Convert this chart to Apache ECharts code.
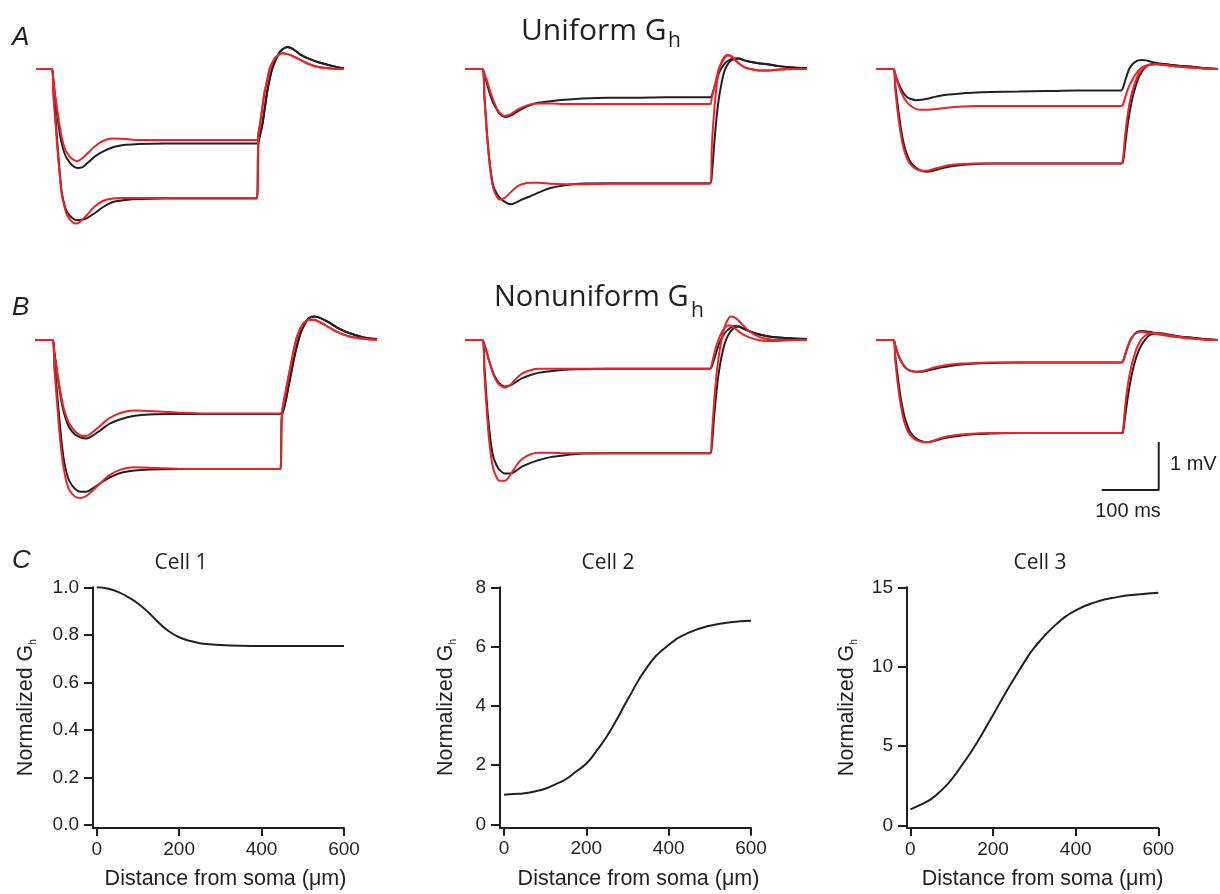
<!DOCTYPE html>
<html>
<head>
<meta charset="utf-8">
<script src="https://cdn.jsdelivr.net/npm/echarts@6/dist/echarts.min.js"></script>
<style>
  html, body { margin: 0; padding: 0; background: #fff; }
  #chart { width: 1220px; height: 894px; }
</style>
</head>
<body>
<div id="chart"></div>
<script>
// time base of the voltage traces (ms); step runs 30 -> 430 ms
const TIME = [0, 30, 34, 38, 42, 46, 50, 55, 60, 70, 80, 90, 100, 115, 130, 150, 175, 200, 250, 300,
  350, 400, 430, 433, 437, 441, 445, 450, 455, 460, 466, 473, 480, 490, 500, 515, 530, 550, 575, 600];

// A: uniform Gh, recorded (black) and model (red), mV from baseline
const a1BlackSmall = [0, 0, -0.25, -0.65, -1.0, -1.32, -1.55, -1.74, -1.86, -2.0, -2.06, -2.05, -1.96, -1.82, -1.72, -1.63, -1.58, -1.56, -1.55, -1.55, -1.55, -1.55, -1.55, -1.5, -1.35, -1.15, -0.87, -0.5, -0.22, 0.0, 0.17, 0.32, 0.41, 0.46, 0.42, 0.3, 0.22, 0.14, 0.07, 0.01];
const a1BlackLarge = [0, 0, -0.45, -1.0, -1.6, -2.12, -2.55, -2.82, -2.97, -3.1, -3.15, -3.14, -3.1, -3.0, -2.88, -2.77, -2.73, -2.71, -2.7, -2.7, -2.7, -2.7, -2.7, -1.6, -1.35, -1.15, -0.87, -0.5, -0.22, 0.0, 0.17, 0.32, 0.41, 0.46, 0.42, 0.3, 0.22, 0.14, 0.07, 0.01];
const a1RedSmall = [0, 0, -0.3, -0.6, -0.9, -1.18, -1.42, -1.62, -1.74, -1.87, -1.92, -1.86, -1.76, -1.61, -1.5, -1.45, -1.46, -1.48, -1.48, -1.48, -1.48, -1.48, -1.48, -1.35, -1.1, -0.8, -0.5, -0.25, 0.0, 0.12, 0.23, 0.3, 0.33, 0.31, 0.27, 0.19, 0.11, 0.04, 0.01, 0];
const a1RedLarge = [0, 0, -0.6, -1.15, -1.7, -2.2, -2.6, -2.85, -3.03, -3.18, -3.22, -3.14, -3.03, -2.86, -2.75, -2.7, -2.69, -2.69, -2.69, -2.69, -2.69, -2.69, -2.69, -1.4, -1.1, -0.8, -0.5, -0.25, 0.0, 0.12, 0.23, 0.3, 0.33, 0.31, 0.27, 0.19, 0.11, 0.04, 0.01, 0];

const a2BlackSmall = [0, 0, -0.12, -0.28, -0.45, -0.6, -0.72, -0.83, -0.92, -1.0, -0.97, -0.9, -0.83, -0.75, -0.7, -0.67, -0.64, -0.62, -0.6, -0.6, -0.59, -0.59, -0.59, -0.55, -0.4, -0.25, -0.1, 0.02, 0.1, 0.16, 0.2, 0.22, 0.22, 0.18, 0.15, 0.12, 0.1, 0.06, 0.03, 0.02];
const a2BlackLarge = [0, 0, -0.55, -1.25, -1.8, -2.2, -2.45, -2.58, -2.67, -2.77, -2.82, -2.78, -2.72, -2.65, -2.57, -2.48, -2.42, -2.39, -2.38, -2.38, -2.38, -2.38, -2.38, -2.2, -1.6, -1.05, -0.65, -0.3, -0.05, 0.08, 0.17, 0.21, 0.22, 0.18, 0.15, 0.12, 0.1, 0.06, 0.03, 0.02];
const a2RedSmall = [0, 0, -0.1, -0.22, -0.38, -0.53, -0.66, -0.8, -0.9, -0.98, -0.94, -0.86, -0.8, -0.74, -0.72, -0.72, -0.73, -0.73, -0.73, -0.73, -0.73, -0.73, -0.73, -0.6, -0.4, -0.2, 0.0, 0.12, 0.22, 0.28, 0.28, 0.2, 0.12, 0.04, 0.0, -0.03, -0.03, -0.01, 0, 0];
const a2RedLarge = [0, 0, -0.6, -1.3, -1.85, -2.26, -2.5, -2.64, -2.72, -2.68, -2.57, -2.46, -2.4, -2.37, -2.37, -2.39, -2.4, -2.4, -2.39, -2.39, -2.39, -2.39, -2.39, -1.6, -0.9, -0.4, -0.05, 0.15, 0.25, 0.29, 0.27, 0.2, 0.12, 0.04, 0.0, -0.03, -0.03, -0.01, 0, 0];

const a3BlackSmall = [0, 0, -0.12, -0.26, -0.37, -0.46, -0.53, -0.59, -0.62, -0.65, -0.64, -0.62, -0.59, -0.55, -0.53, -0.51, -0.49, -0.48, -0.47, -0.46, -0.45, -0.45, -0.45, -0.4, -0.25, -0.1, 0.02, 0.1, 0.15, 0.18, 0.19, 0.18, 0.16, 0.13, 0.11, 0.09, 0.07, 0.05, 0.02, 0];
const a3BlackLarge = [0, 0, -0.35, -0.75, -1.1, -1.4, -1.62, -1.8, -1.93, -2.06, -2.12, -2.14, -2.12, -2.07, -2.03, -2.0, -1.98, -1.97, -1.97, -1.97, -1.97, -1.97, -1.97, -1.95, -1.6, -1.2, -0.9, -0.6, -0.38, -0.2, -0.06, 0.04, 0.09, 0.11, 0.11, 0.09, 0.07, 0.05, 0.02, 0];
const a3RedSmall = [0, 0, -0.13, -0.28, -0.42, -0.53, -0.62, -0.7, -0.76, -0.83, -0.85, -0.85, -0.84, -0.82, -0.8, -0.78, -0.77, -0.77, -0.77, -0.77, -0.77, -0.77, -0.77, -0.75, -0.6, -0.45, -0.33, -0.22, -0.12, -0.04, 0.03, 0.07, 0.09, 0.1, 0.09, 0.07, 0.05, 0.03, 0.01, 0];
const a3RedLarge = [0, 0, -0.45, -0.9, -1.25, -1.52, -1.72, -1.88, -1.98, -2.08, -2.12, -2.12, -2.09, -2.04, -2.0, -1.98, -1.97, -1.97, -1.97, -1.97, -1.97, -1.97, -1.97, -1.9, -1.4, -1.0, -0.7, -0.45, -0.27, -0.12, -0.02, 0.05, 0.09, 0.1, 0.09, 0.07, 0.05, 0.03, 0.01, 0];

// B: nonuniform Gh
const b1BlackSmall = [0, 0, -0.25, -0.6, -0.95, -1.25, -1.48, -1.68, -1.82, -1.97, -2.03, -2.05, -2.0, -1.88, -1.75, -1.65, -1.58, -1.55, -1.54, -1.54, -1.54, -1.54, -1.54, -1.52, -1.4, -1.2, -0.95, -0.65, -0.35, -0.1, 0.15, 0.33, 0.45, 0.49, 0.46, 0.37, 0.26, 0.15, 0.06, 0.02];
const b1BlackLarge = [0, 0, -0.45, -1.0, -1.55, -2.05, -2.45, -2.75, -2.93, -3.1, -3.16, -3.16, -3.1, -2.98, -2.87, -2.77, -2.72, -2.7, -2.69, -2.69, -2.69, -2.69, -2.69, -1.6, -1.42, -1.2, -0.95, -0.65, -0.35, -0.1, 0.15, 0.33, 0.45, 0.49, 0.46, 0.37, 0.26, 0.15, 0.06, 0.02];
const b1RedSmall = [0, 0, -0.3, -0.6, -0.9, -1.17, -1.4, -1.6, -1.74, -1.9, -1.99, -2.0, -1.93, -1.78, -1.63, -1.52, -1.47, -1.48, -1.51, -1.53, -1.53, -1.53, -1.53, -1.5, -1.25, -1.0, -0.75, -0.45, -0.15, 0.08, 0.25, 0.37, 0.42, 0.42, 0.37, 0.27, 0.17, 0.08, 0.03, 0];
const b1RedLarge = [0, 0, -0.6, -1.2, -1.8, -2.3, -2.65, -2.95, -3.12, -3.26, -3.29, -3.25, -3.15, -2.98, -2.82, -2.7, -2.65, -2.66, -2.68, -2.69, -2.69, -2.69, -2.69, -1.55, -1.25, -1.0, -0.75, -0.45, -0.15, 0.08, 0.25, 0.37, 0.42, 0.42, 0.37, 0.27, 0.17, 0.08, 0.03, 0];

const b2BlackSmall = [0, 0, -0.1, -0.25, -0.42, -0.57, -0.7, -0.82, -0.9, -0.97, -0.94, -0.87, -0.8, -0.73, -0.68, -0.65, -0.62, -0.61, -0.6, -0.6, -0.6, -0.6, -0.6, -0.55, -0.4, -0.25, -0.1, 0.03, 0.13, 0.2, 0.26, 0.29, 0.28, 0.23, 0.18, 0.12, 0.08, 0.05, 0.03, 0.02];
const b2BlackLarge = [0, 0, -0.55, -1.25, -1.8, -2.2, -2.45, -2.6, -2.7, -2.78, -2.78, -2.72, -2.64, -2.56, -2.5, -2.44, -2.4, -2.37, -2.36, -2.36, -2.36, -2.36, -2.36, -2.2, -1.6, -1.1, -0.7, -0.35, -0.1, 0.06, 0.18, 0.26, 0.28, 0.23, 0.18, 0.12, 0.08, 0.05, 0.03, 0.02];
const b2RedSmall = [0, 0, -0.1, -0.25, -0.42, -0.58, -0.72, -0.85, -0.93, -0.99, -0.93, -0.8, -0.7, -0.63, -0.6, -0.6, -0.6, -0.6, -0.6, -0.6, -0.6, -0.6, -0.6, -0.5, -0.3, -0.12, 0.02, 0.15, 0.24, 0.3, 0.3, 0.25, 0.18, 0.1, 0.05, 0.0, -0.02, -0.02, 0, 0];
const b2RedLarge = [0, 0, -0.7, -1.45, -2.05, -2.45, -2.7, -2.85, -2.93, -2.93, -2.8, -2.62, -2.48, -2.38, -2.35, -2.35, -2.36, -2.36, -2.36, -2.36, -2.36, -2.36, -2.36, -2.0, -1.3, -0.75, -0.35, 0.0, 0.25, 0.4, 0.49, 0.47, 0.4, 0.28, 0.17, 0.07, 0.02, 0.0, 0, 0];

const b3BlackSmall = [0, 0, -0.12, -0.27, -0.39, -0.48, -0.55, -0.61, -0.64, -0.66, -0.66, -0.64, -0.61, -0.57, -0.54, -0.51, -0.49, -0.48, -0.47, -0.47, -0.47, -0.47, -0.47, -0.45, -0.32, -0.17, -0.04, 0.07, 0.14, 0.18, 0.19, 0.18, 0.17, 0.14, 0.12, 0.1, 0.07, 0.05, 0.02, 0];
const b3BlackLarge = [0, 0, -0.35, -0.75, -1.1, -1.38, -1.6, -1.78, -1.92, -2.05, -2.11, -2.13, -2.11, -2.06, -2.02, -1.99, -1.96, -1.95, -1.94, -1.94, -1.94, -1.94, -1.94, -1.93, -1.6, -1.25, -0.95, -0.65, -0.42, -0.25, -0.1, 0.02, 0.1, 0.14, 0.14, 0.11, 0.08, 0.05, 0.02, 0];
const b3RedSmall = [0, 0, -0.13, -0.28, -0.4, -0.49, -0.56, -0.61, -0.64, -0.66, -0.65, -0.62, -0.58, -0.54, -0.51, -0.49, -0.48, -0.47, -0.47, -0.47, -0.47, -0.47, -0.47, -0.45, -0.3, -0.15, -0.03, 0.07, 0.13, 0.16, 0.17, 0.16, 0.15, 0.13, 0.11, 0.08, 0.06, 0.03, 0.01, 0];
const b3RedLarge = [0, 0, -0.45, -0.9, -1.25, -1.52, -1.72, -1.88, -1.98, -2.08, -2.12, -2.13, -2.1, -2.04, -2.0, -1.97, -1.95, -1.94, -1.94, -1.94, -1.94, -1.94, -1.94, -1.9, -1.4, -1.0, -0.72, -0.45, -0.25, -0.1, 0.02, 0.1, 0.14, 0.15, 0.13, 0.1, 0.07, 0.04, 0.01, 0];

// scale bar: 100 ms by 1 mV
const scaleBarT = [396, 496, 496];
const scaleBarV = [-3.125, -3.125, -2.125];

// C: normalized Gh vs distance from soma (um)
const DIST = [0, 25, 50, 75, 100, 125, 150, 175, 200, 225, 250, 275, 300, 350, 400, 450, 500, 550, 600];
const cell1Gh = [1.0, 0.995, 0.982, 0.96, 0.932, 0.895, 0.852, 0.815, 0.79, 0.775, 0.765, 0.76, 0.757, 0.754, 0.753, 0.753, 0.753, 0.753, 0.753];
const cell2Gh = [1.0, 1.02, 1.05, 1.11, 1.2, 1.35, 1.52, 1.78, 2.05, 2.48, 2.97, 3.56, 4.2, 5.35, 6.05, 6.48, 6.7, 6.82, 6.87];
const cell3Gh = [1.0, 1.3, 1.65, 2.2, 2.9, 3.8, 4.75, 5.82, 6.95, 8.1, 9.2, 10.25, 11.2, 12.6, 13.55, 14.08, 14.38, 14.55, 14.66];
const distTicks = [0, 200, 400, 600];
const cell1Ticks = [0, 0.2, 0.4, 0.6, 0.8, 1.0];
const cell2Ticks = [0, 2, 4, 6, 8];
const cell3Ticks = [0, 5, 10, 15];

const INK = '#231f20';
const RED = '#e8232a';
const HELV = 'Liberation Sans';
const MYRIAD = 'Open Sans';

const chart = echarts.init(document.getElementById('chart'));

const zip = (xs, ys) => xs.map((x, i) => [x, ys[i]]);

const tracePanels = [
  { left: 36, width: 308, top: 30.6, traces: [a1BlackSmall, a1BlackLarge, a1RedSmall, a1RedLarge] },
  { left: 465, width: 342, top: 30.6, traces: [a2BlackSmall, a2BlackLarge, a2RedSmall, a2RedLarge] },
  { left: 876, width: 342, top: 30.6, traces: [a3BlackSmall, a3BlackLarge, a3RedSmall, a3RedLarge] },
  { left: 35, width: 342, top: 301.6, traces: [b1BlackSmall, b1BlackLarge, b1RedSmall, b1RedLarge] },
  { left: 465, width: 342, top: 301.6, traces: [b2BlackSmall, b2BlackLarge, b2RedSmall, b2RedLarge] },
  { left: 876, width: 342, top: 301.6, traces: [b3BlackSmall, b3BlackLarge, b3RedSmall, b3RedLarge] }
];

const grid = [];
const xAxis = [];
const yAxis = [];
const series = [];

tracePanels.forEach((p, gi) => {
  grid.push({ left: p.left, top: p.top, width: p.width, height: 211.2 });
  xAxis.push({ type: 'value', gridIndex: gi, min: 0, max: 600, show: false });
  yAxis.push({ type: 'value', gridIndex: gi, min: -3.6, max: 0.8, show: false });
  p.traces.forEach((vals, k) => {
    series.push({
      type: 'line', xAxisIndex: gi, yAxisIndex: gi,
      data: zip(TIME, vals),
      showSymbol: false, smooth: 0.3,
      lineStyle: { color: k < 2 ? INK : RED, width: 2 },
      z: k < 2 ? 2 : 3
    });
  });
});

// scale bar lives in panel B3's coordinates
series.push({
  type: 'line', xAxisIndex: 5, yAxisIndex: 5,
  data: zip(scaleBarT, scaleBarV),
  showSymbol: false,
  lineStyle: { color: INK, width: 2 }
});

const cellPanels = [
  { left: 93, width: 251, xMin: -9, yMin: -0.0126, yMax: 1.0, height: 240.7, ticks: cell1Ticks, gh: cell1Gh, gap: 55, shift: 14, fmt: v => v.toFixed(1) },
  { left: 500, width: 251, xMin: -9.7, yMin: -0.115, yMax: 8, height: 240.4, ticks: cell2Ticks, gh: cell2Gh, gap: 42, shift: 26, fmt: v => String(v) },
  { left: 907, width: 251.3, xMin: -8.2, yMin: -0.17, yMax: 15, height: 240.7, ticks: cell3Ticks, gh: cell3Gh, gap: 48, shift: 20, fmt: v => String(v) }
];

const axisLineStyle = { color: INK, width: 2 };
const labelStyle = { color: INK, fontFamily: HELV, fontSize: 19 };

cellPanels.forEach((c, i) => {
  const gi = 6 + i;
  grid.push({ left: c.left, top: 587.3, width: c.width, height: c.height });
  xAxis.push({
    type: 'value', gridIndex: gi, min: c.xMin, max: 600,
    axisLine: { show: true, onZero: false, lineStyle: axisLineStyle },
    axisTick: { show: true, customValues: distTicks, length: 8, lineStyle: axisLineStyle },
    axisLabel: Object.assign({ customValues: distTicks, margin: 12 }, labelStyle),
    splitLine: { show: false },
    name: 'Distance from soma (\u03bcm)', nameLocation: 'middle', nameGap: 40,
    nameTextStyle: { color: INK, fontFamily: HELV, fontSize: 21.5, padding: [0, 0, 0, c.shift] }
  });
  yAxis.push({
    type: 'value', gridIndex: gi, min: c.yMin, max: c.yMax,
    axisLine: { show: true, onZero: false, lineStyle: axisLineStyle },
    axisTick: { show: true, customValues: c.ticks, length: 9, lineStyle: axisLineStyle },
    axisLabel: Object.assign({ customValues: c.ticks, margin: 14, formatter: c.fmt }, labelStyle),
    splitLine: { show: false },
    name: '{a|Normalized G}{b|h}', nameLocation: 'middle', nameGap: c.gap,
    nameTextStyle: {
      color: INK, fontFamily: HELV, fontSize: 21,
      rich: {
        a: { color: INK, fontFamily: HELV, fontSize: 21.5, lineHeight: 24 },
        b: { color: INK, fontFamily: HELV, fontSize: 10, lineHeight: 10, verticalAlign: 'bottom' }
      }
    }
  });
  series.push({
    type: 'line', xAxisIndex: gi, yAxisIndex: gi,
    data: zip(DIST, c.gh),
    showSymbol: false, smooth: true,
    lineStyle: { color: INK, width: 2 }
  });
});

const txt = (text, x, y, font, extra) => ({
  type: 'text', x: x, y: y, silent: true,
  style: Object.assign({ text: text, font: font, fill: INK, verticalAlign: 'middle', align: 'left' }, extra || {})
});

const graphic = [
  txt('A', 12, 38, 'italic 26px "' + HELV + '"'),
  txt('B', 12, 308, 'italic 26px "' + HELV + '"'),
  txt('C', 12, 561, 'italic 26px "' + HELV + '"'),
  txt('Uniform G', 521, 31, '30px "' + MYRIAD + '"'),
  txt('h', 668, 41, '21px "' + MYRIAD + '"'),
  txt('Nonuniform G', 494, 298, '29px "' + MYRIAD + '"'),
  txt('h', 691, 311, '21px "' + MYRIAD + '"'),
  txt('Cell 1', 181, 563, '21px "' + MYRIAD + '"', { align: 'center' }),
  txt('Cell 2', 608, 563, '21px "' + MYRIAD + '"', { align: 'center' }),
  txt('Cell 3', 1040, 563, '21px "' + MYRIAD + '"', { align: 'center' }),
  txt('1 mV', 1170, 464, '20px "' + HELV + '"'),
  txt('100 ms', 1128, 511, '20px "' + HELV + '"', { align: 'center' })
];

chart.setOption({
  animation: false,
  backgroundColor: '#ffffff',
  grid: grid,
  xAxis: xAxis,
  yAxis: yAxis,
  series: series,
  graphic: graphic
});
</script>
</body>
</html>
